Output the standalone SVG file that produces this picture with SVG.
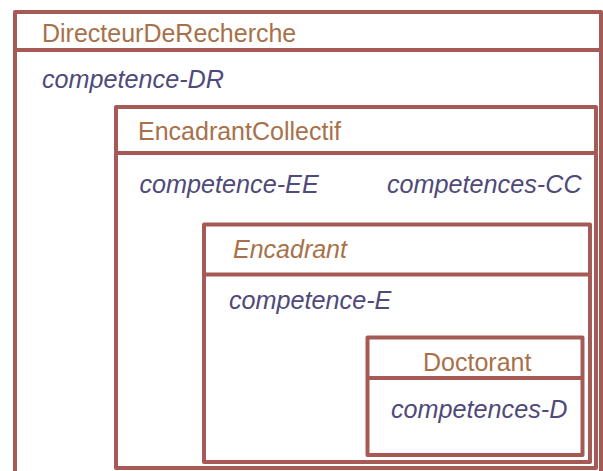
<svg xmlns="http://www.w3.org/2000/svg" width="603" height="471" viewBox="0 0 603 471">
<style>
.box{fill:none;stroke:#a65a56;stroke-width:4;stroke-linejoin:round}
.title{font-family:"Liberation Sans",Arial,sans-serif;font-size:25px;fill:#a8714a}
.attr{font-family:"Liberation Sans",Arial,sans-serif;font-size:25.2px;font-style:italic;fill:#4f4a7a}
</style>
<rect width="603" height="471" fill="#ffffff"/>
<g id="DirecteurDeRecherche">
<path class="box" d="M15,480 V12 H601 V480"/>
<line class="box" x1="15" y1="50" x2="601" y2="50"/>
<text class="title" x="42" y="41.5">DirecteurDeRecherche</text>
<text class="attr" x="42" y="88">competence-DR</text>
</g>
<g id="EncadrantCollectif">
<rect class="box" x="116" y="107" width="480" height="361"/>
<line class="box" x1="116" y1="153" x2="596" y2="153"/>
<text class="title" x="138" y="140">EncadrantCollectif</text>
<text class="attr" x="139.5" y="193">competence-EE</text>
<text class="attr" x="387" y="193">competences-CC</text>
</g>
<g id="Encadrant">
<rect class="box" x="204" y="224.5" width="386" height="237.5"/>
<line class="box" x1="204" y1="274.5" x2="590" y2="274.5"/>
<text class="title" x="233" y="258" font-style="italic">Encadrant</text>
<text class="attr" x="229" y="309">competence-E</text>
</g>
<g id="Doctorant">
<rect class="box" x="367.5" y="337.5" width="215" height="117.5"/>
<line class="box" x1="367.5" y1="378" x2="582.5" y2="378"/>
<text class="title" x="423" y="370.5">Doctorant</text>
<text class="attr" x="391" y="418">competences-D</text>
</g>
<g id="connectors"/>
</svg>
